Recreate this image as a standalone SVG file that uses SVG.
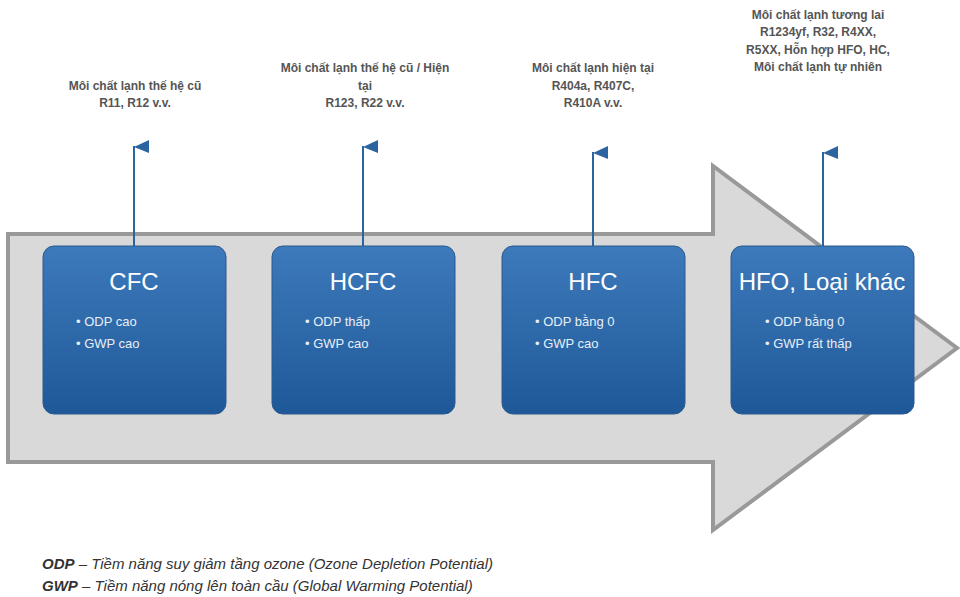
<svg xmlns="http://www.w3.org/2000/svg" width="960" height="597" viewBox="0 0 960 597">
  <defs>
    <linearGradient id="boxFill" x1="0" y1="0" x2="0" y2="1">
      <stop offset="0" stop-color="#3d7abb"/>
      <stop offset="1" stop-color="#1f5898"/>
    </linearGradient>
    <style>
      .arrow { fill: #d9d9d9; stroke: #999999; stroke-width: 4; stroke-linejoin: miter; }
      .box { fill: url(#boxFill); stroke: #2a5a8e; stroke-width: 1; }
      .title { font-family: "Liberation Sans", Arial, sans-serif; font-size: 24px; fill: #ffffff; text-anchor: middle; }
      .bullet { font-family: "Liberation Sans", Arial, sans-serif; font-size: 13px; fill: #e8eef6; }
      .label { font-family: "Liberation Sans", Arial, sans-serif; font-size: 12px; font-weight: bold; fill: #555555; text-anchor: middle; }
      .pole { stroke: #2b64a0; stroke-width: 2; fill: none; }
      .flag { fill: #2b64a0; }
      .note { font-family: "Liberation Sans", Arial, sans-serif; font-size: 15px; font-style: italic; fill: #333333; }
    </style>
  </defs>

  <rect width="960" height="597" fill="#ffffff"/>

  <!-- timeline arrow -->
  <path class="arrow" d="M8,234 H713 V166 L957,348 L713,530 V462 H8 Z"/>

  <!-- flag poles linking labels to the boxes -->
  <g id="connectors">
    <line class="pole" x1="134" y1="146" x2="134" y2="246"/>
    <polygon class="flag" points="134,147 149,140 149,153"/>
    <line class="pole" x1="363" y1="146" x2="363" y2="246"/>
    <polygon class="flag" points="363,147 378,140 378,153"/>
    <line class="pole" x1="593" y1="152" x2="593" y2="246"/>
    <polygon class="flag" points="593,153 608,146 608,159"/>
    <line class="pole" x1="823" y1="152" x2="823" y2="246"/>
    <polygon class="flag" points="823,153 838,146 838,159"/>
  </g>

  <g id="label-cfc">
    <text class="label" x="135" y="90">Môi chất lạnh thế hệ cũ</text>
    <text class="label" x="135" y="107">R11, R12 v.v.</text>
  </g>
  <g id="label-hcfc">
    <text class="label" x="365" y="72">Môi chất lạnh thế hệ cũ / Hiện</text>
    <text class="label" x="365" y="90">tại</text>
    <text class="label" x="365" y="107">R123, R22 v.v.</text>
  </g>
  <g id="label-hfc">
    <text class="label" x="593" y="72">Môi chất lạnh hiện tại</text>
    <text class="label" x="593" y="90">R404a, R407C,</text>
    <text class="label" x="593" y="107">R410A v.v.</text>
  </g>
  <g id="label-hfo">
    <text class="label" x="818" y="19">Môi chất lạnh tương lai</text>
    <text class="label" x="818" y="36">R1234yf, R32, R4XX,</text>
    <text class="label" x="818" y="54">R5XX, Hỗn hợp HFO, HC,</text>
    <text class="label" x="818" y="71">Môi chất lạnh tự nhiên</text>
  </g>

  <g id="node-cfc">
    <rect class="box" x="43" y="246" width="183" height="168" rx="11"/>
    <text class="title" x="134" y="290">CFC</text>
    <text class="bullet" x="76" y="326">• ODP cao</text>
    <text class="bullet" x="76" y="348">• GWP cao</text>
  </g>
  <g id="node-hcfc">
    <rect class="box" x="272" y="246" width="183" height="168" rx="11"/>
    <text class="title" x="363" y="290">HCFC</text>
    <text class="bullet" x="305" y="326">• ODP thấp</text>
    <text class="bullet" x="305" y="348">• GWP cao</text>
  </g>
  <g id="node-hfc">
    <rect class="box" x="502" y="246" width="183" height="168" rx="11"/>
    <text class="title" x="593" y="290">HFC</text>
    <text class="bullet" x="535" y="326">• ODP bằng 0</text>
    <text class="bullet" x="535" y="348">• GWP cao</text>
  </g>
  <g id="node-hfo">
    <rect class="box" x="731" y="246" width="183" height="168" rx="11"/>
    <text class="title" x="822" y="290">HFO, Loại khác</text>
    <text class="bullet" x="765" y="326">• ODP bằng 0</text>
    <text class="bullet" x="765" y="348">• GWP rất thấp</text>
  </g>

  <g id="legend">
    <text class="note" x="42" y="569"><tspan font-weight="bold">ODP</tspan> – Tiềm năng suy giảm tầng ozone (Ozone Depletion Potential)</text>
    <text class="note" x="42" y="591"><tspan font-weight="bold">GWP</tspan> – Tiềm năng nóng lên toàn cầu (Global Warming Potential)</text>
  </g>
</svg>
